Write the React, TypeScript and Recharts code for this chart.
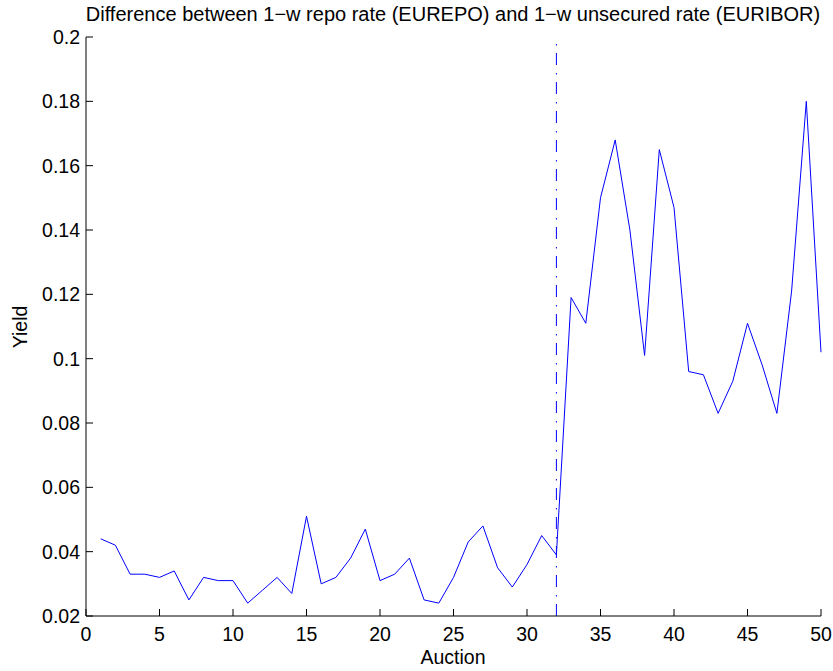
import React from 'react';
import { LineChart, Line, XAxis, YAxis, ReferenceLine } from 'recharts';

const auctions = Array.from({ length: 50 }, (_, i) => i + 1);
const spread = [
  0.044, 0.042, 0.033, 0.033, 0.032, 0.034, 0.025, 0.032, 0.031, 0.031,
  0.024, 0.028, 0.032, 0.027, 0.051, 0.030, 0.032, 0.038, 0.047, 0.031,
  0.033, 0.038, 0.025, 0.024, 0.032, 0.043, 0.048, 0.035, 0.029, 0.036,
  0.045, 0.039, 0.119, 0.111, 0.150, 0.168, 0.140, 0.101, 0.165, 0.147,
  0.096, 0.095, 0.083, 0.093, 0.111, 0.098, 0.083, 0.121, 0.180, 0.102,
];
const xTicks = [0, 5, 10, 15, 20, 25, 30, 35, 40, 45, 50];
const yTicks = [0.02, 0.04, 0.06, 0.08, 0.1, 0.12, 0.14, 0.16, 0.18, 0.2];
const breakAuction = 32;

const data = auctions.map((a, i) => ({ auction: a, yield: spread[i] }));

const FONT = '"Liberation Sans", Arial, Helvetica, sans-serif';
const FS = 19.5;

const XTick = ({ x, y, payload }: any) => (
  <g>
    <line x1={x} y1={y} x2={x} y2={y - 7} stroke="#000" />
    <text x={x} y={y + 25} textAnchor="middle" fontFamily={FONT} fontSize={FS} fill="#000">
      {payload.value}
    </text>
  </g>
);

const YTick = ({ x, y, payload }: any) => (
  <g>
    <line x1={x} y1={y} x2={x + 7} y2={y} stroke="#000" />
    <text x={x - 6} y={y} dy="0.36em" textAnchor="end" fontFamily={FONT} fontSize={FS} fill="#000">
      {String(Number(payload.value.toFixed(2)))}
    </text>
  </g>
);

export default function App() {
  return (
    <div style={{ position: 'fixed', left: 0, top: 0, width: 833, height: 671, background: '#fff' }}>
      <LineChart width={833} height={671} data={data} margin={{ top: 37, right: 12, left: 0, bottom: 0 }}>
        <XAxis
          dataKey="auction"
          type="number"
          domain={[0, 50]}
          ticks={xTicks}
          height={55}
          tickSize={0}
          tickMargin={0}
          tickLine={false}
          axisLine={{ stroke: '#000' }}
          tick={<XTick />}
          interval={0}
        />
        <YAxis
          type="number"
          domain={[0.02, 0.2]}
          ticks={yTicks}
          width={86}
          tickSize={0}
          tickMargin={0}
          tickLine={false}
          axisLine={{ stroke: '#000' }}
          tick={<YTick />}
          interval={0}
        />
        <ReferenceLine
          x={breakAuction}
          stroke="#0000ff"
          strokeWidth={1}
          strokeDasharray="12 7.5 1.5 8"
        />
        <Line
          type="linear"
          dataKey="yield"
          stroke="#0000ff"
          strokeWidth={1}
          dot={false}
          isAnimationActive={false}
        />
      </LineChart>
      <svg width={833} height={671} style={{ position: 'absolute', left: 0, top: 0, pointerEvents: 'none' }}>
        <text x={453} y={21} textAnchor="middle" fontFamily={FONT} fontSize={20} fill="#000">
          Difference between 1−w repo rate (EUREPO) and 1−w unsecured rate (EURIBOR)
        </text>
        <text x={453} y={664} textAnchor="middle" fontFamily={FONT} fontSize={FS} fill="#000">
          Auction
        </text>
        <text
          x={27}
          y={327}
          textAnchor="middle"
          transform="rotate(-90 27 327)"
          fontFamily={FONT}
          fontSize={FS}
          fill="#000"
        >
          Yield
        </text>
      </svg>
    </div>
  );
}
